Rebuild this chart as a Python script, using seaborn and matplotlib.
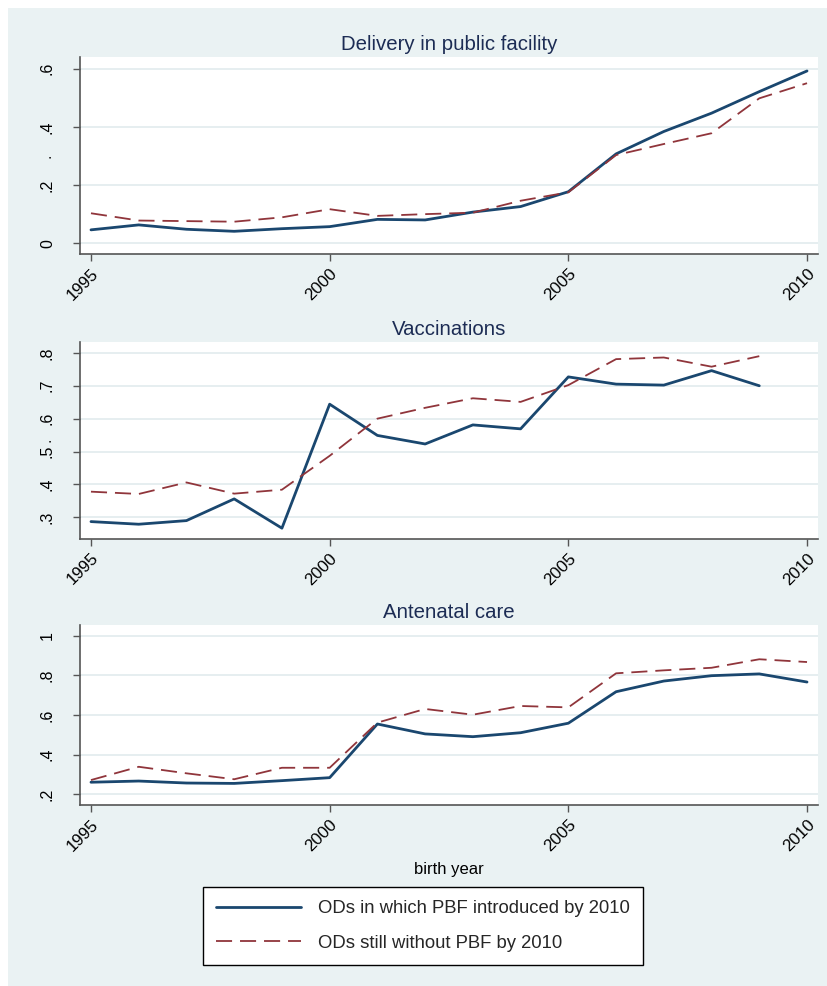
import numpy as np
import pandas as pd
import seaborn as sns
import matplotlib
matplotlib.use("Agg")
import matplotlib.pyplot as plt
from matplotlib.patches import Rectangle
from matplotlib.lines import Line2D

# ---- data: share of births by year, split by PBF status of the district ----
years = list(range(1995, 2011))

delivery_pbf = [0.046, 0.063, 0.048, 0.041, 0.050, 0.057, 0.082, 0.080,
                0.107, 0.126, 0.177, 0.307, 0.384, 0.447, 0.521, 0.592]
delivery_nopbf = [0.103, 0.078, 0.076, 0.074, 0.089, 0.117, 0.094, 0.100,
                  0.105, 0.146, 0.175, 0.303, 0.341, 0.378, 0.498, 0.550]

vacc_years = list(range(1995, 2010))
vacc_pbf = [0.287, 0.279, 0.290, 0.356, 0.267, 0.644, 0.549, 0.523,
            0.581, 0.569, 0.727, 0.705, 0.702, 0.746, 0.700]
vacc_nopbf = [0.378, 0.371, 0.406, 0.372, 0.384, 0.487, 0.600, 0.633,
              0.662, 0.651, 0.702, 0.781, 0.786, 0.758, 0.790]

anc_pbf = [0.261, 0.267, 0.257, 0.255, 0.269, 0.284, 0.555, 0.505,
           0.491, 0.511, 0.559, 0.718, 0.772, 0.799, 0.808, 0.767]
anc_nopbf = [0.272, 0.339, 0.306, 0.276, 0.334, 0.334, 0.562, 0.631,
             0.602, 0.646, 0.639, 0.811, 0.826, 0.839, 0.882, 0.868]

group_labels = ["ODs in which PBF introduced by 2010",
                "ODs still without PBF by 2010"]
panel_titles = ["Delivery in public facility", "Vaccinations", "Antenatal care"]

xtick_vals = [1995, 2000, 2005, 2010]
ytick_vals = [[0, 0.2, 0.4, 0.6],
              [0.3, 0.4, 0.5, 0.6, 0.7, 0.8],
              [0.2, 0.4, 0.6, 0.8, 1.0]]
ytick_labels = [["0", ".2", ".4", ".6"],
                [".3", ".4", ".5", ".6", ".7", ".8"],
                [".2", ".4", ".6", ".8", "1"]]

# ---- long-format table ----
def panel_frame(yrs, a, b, name):
    return pd.concat([
        pd.DataFrame({"year": yrs, "share": a, "group": group_labels[0], "panel": name}),
        pd.DataFrame({"year": yrs, "share": b, "group": group_labels[1], "panel": name}),
    ])

df = pd.concat([
    panel_frame(years, delivery_pbf, delivery_nopbf, panel_titles[0]),
    panel_frame(vacc_years, vacc_pbf, vacc_nopbf, panel_titles[1]),
    panel_frame(years, anc_pbf, anc_nopbf, panel_titles[2]),
], ignore_index=True)

# ---- style ----
sns.set_style("ticks")
plt.rcParams["font.family"] = ["Liberation Sans", "DejaVu Sans"]

BG = "#EAF2F3"
GRID = "#E2EBED"
NAVY = "#1A476F"
MAROON = "#90353B"
TITLE_C = "#1C2C54"
AXIS_C = "#555555"

palette = {group_labels[0]: NAVY, group_labels[1]: MAROON}
dashes = {group_labels[0]: "", group_labels[1]: (8.9, 4.4)}
widths = {group_labels[0]: 2.0, group_labels[1]: 1.3}

W, H = 828, 986
fig = plt.figure(figsize=(W / 100, H / 100), dpi=100)
fig.patch.set_facecolor("white")
fig.add_artist(Rectangle((8 / W, 0), 1 - 8 / W, 1 - 8 / H,
                         transform=fig.transFigure, facecolor=BG,
                         edgecolor="none", zorder=-10))

# axes boxes in pixels: (top, bottom)
boxes = [(57, 254), (341.7, 538.7), (625, 805)]
left_px, right_px = 80, 818
ylims = [(-0.037, 0.64), (0.235, 0.834), (0.146, 1.055)]

for i, (title, (top, bot)) in enumerate(zip(panel_titles, boxes)):
    ax = fig.add_axes([left_px / W, 1 - bot / H,
                       (right_px - left_px) / W, (bot - top) / H])
    ax.set_facecolor("white")
    sub = df[df["panel"] == title]
    sns.lineplot(data=sub, x="year", y="share", hue="group", style="group",
                 palette=palette, dashes=dashes, ax=ax, legend=False,
                 estimator=None, sort=True)
    for line, g in zip(ax.get_lines(), group_labels):
        line.set_linewidth(widths[g])

    ax.set_xlim(1994.77, 2010.23)
    ax.set_ylim(*ylims[i])
    ax.set_xticks(xtick_vals)
    ax.set_xticklabels([str(v) for v in xtick_vals])
    ax.set_yticks(ytick_vals[i])
    ax.set_yticklabels(ytick_labels[i])
    ax.grid(axis="y", color=GRID, linewidth=1.2, zorder=0)
    ax.set_axisbelow(True)

    for s in ["top", "right"]:
        ax.spines[s].set_visible(False)
    for s in ["left", "bottom"]:
        ax.spines[s].set_color(AXIS_C)
        ax.spines[s].set_linewidth(1.2)

    ax.tick_params(axis="both", direction="out", length=5, width=1.0,
                   color=AXIS_C, labelcolor="black")
    ax.tick_params(axis="y", pad=13, labelsize=11.5)
    ax.tick_params(axis="x", pad=3.5, labelsize=12.2)
    for lab in ax.get_yticklabels():
        lab.set_rotation(90)
        lab.set_va("center")
        lab.set_ha("right")
    for lab in ax.get_xticklabels():
        lab.set_rotation(45)
        lab.set_ha("right")
        lab.set_va("top")
        lab.set_rotation_mode("anchor")

    ax.set_title(title, fontsize=14.7, color=TITLE_C, pad=4.8)
    ax.set_ylabel(".", fontsize=11.5)
    ax.yaxis.set_label_coords(-0.036, 0.5)
    if i == 2:
        ax.set_xlabel("birth year", fontsize=12, color="black")
        ax.xaxis.set_label_coords(0.5, -0.315)
    else:
        ax.set_xlabel("")

handles = [Line2D([], [], color=NAVY, lw=2.0),
           Line2D([], [], color=MAROON, lw=1.3, dashes=dashes[group_labels[1]])]
leg = fig.legend(handles, group_labels, loc="center",
                 bbox_to_anchor=(423 / W, 1 - 926 / H),
                 fontsize=13.3, frameon=True, fancybox=False, shadow=False,
                 handlelength=4.6, handletextpad=0.95, labelspacing=0.95,
                 borderpad=0.7, borderaxespad=0)
frame = leg.get_frame()
frame.set_edgecolor("black")
frame.set_linewidth(1.0)
frame.set_facecolor("white")
frame.set_alpha(1)

fig.savefig("out.png", dpi=100, facecolor=fig.get_facecolor())
